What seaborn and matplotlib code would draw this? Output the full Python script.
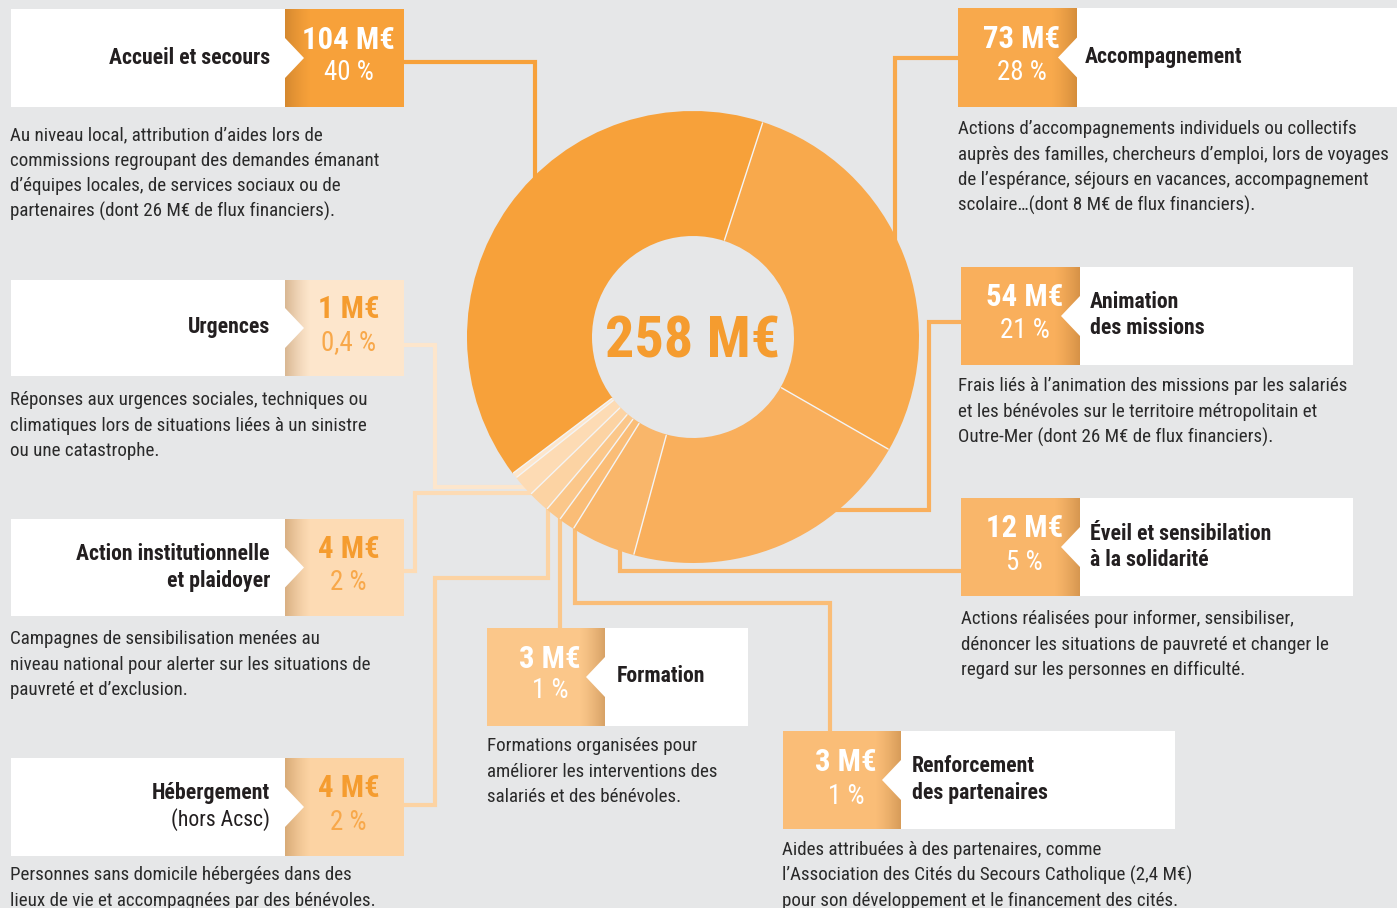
import numpy as np
import matplotlib
matplotlib.use("Agg")
import matplotlib.pyplot as plt
import seaborn as sns
from matplotlib.patches import Rectangle, Polygon
from matplotlib import font_manager as fm

# ---------------- data ----------------
categories = ["Accueil et secours", "Accompagnement", "Animation des missions",
              "Éveil et sensibilisation à la solidarité", "Renforcement des partenaires",
              "Formation", "Hébergement", "Action institutionnelle et plaidoyer", "Urgences"]
amounts = [104, 73, 54, 12, 3, 3, 4, 4, 1]
amount_labels = ["104 M€", "73 M€", "54 M€", "12 M€", "3 M€", "3 M€", "4 M€", "4 M€", "1 M€"]
percent_labels = ["40 %", "28 %", "21 %", "5 %", "1 %", "1 %", "2 %", "2 %", "0,4 %"]
total_label = "258 M€"
title_lines = [
    ["Accueil et secours"],
    ["Accompagnement"],
    ["Animation", "des missions"],
    ["Éveil et sensibilation", "à la solidarité"],
    ["Renforcement", "des partenaires"],
    ["Formation"],
    ["Hébergement", "(hors Acsc)"],
    ["Action institutionnelle", "et plaidoyer"],
    ["Urgences"],
]
descriptions = [
    ["Au niveau local, attribution d’aides lors de",
     "commissions regroupant des demandes émanant",
     "d’équipes locales, de services sociaux ou de",
     "partenaires (dont 26 M€ de flux financiers)."],
    ["Actions d’accompagnements individuels ou collectifs",
     "auprès des familles, chercheurs d’emploi, lors de voyages",
     "de l’espérance, séjours en vacances, accompagnement",
     "scolaire…(dont 8 M€ de flux financiers)."],
    ["Frais liés à l’animation des missions par les salariés",
     "et les bénévoles sur le territoire métropolitain et",
     "Outre-Mer (dont 26 M€ de flux financiers)."],
    ["Actions réalisées pour informer, sensibiliser,",
     "dénoncer les situations de pauvreté et changer le",
     "regard sur les personnes en difficulté."],
    ["Aides attribuées à des partenaires, comme",
     "l’Association des Cités du Secours Catholique (2,4 M€)",
     "pour son développement et le financement des cités."],
    ["Formations organisées pour",
     "améliorer les interventions des",
     "salariés et des bénévoles."],
    ["Personnes sans domicile hébergées dans des",
     "lieux de vie et accompagnées par des bénévoles."],
    ["Campagnes de sensibilisation menées au",
     "niveau national pour alerter sur les situations de",
     "pauvreté et d’exclusion."],
    ["Réponses aux urgences sociales, techniques ou",
     "climatiques lors de situations liées à un sinistre",
     "ou une catastrophe."],
]

# ---------------- style ----------------
sns.set_theme(style="white")
BG = "#e6e7e8"
DARK = "#231f20"
palette = sns.color_palette(["#f7a13a", "#f8a94c", "#f9af5c", "#f9b66a", "#fabd77",
                             "#fbc78a", "#fcd3a3", "#fddbb4", "#fde6cc"])
value_colors = ["white"] * 6 + ["#f59c2f"] * 3
pct_colors = ["white"] * 6 + ["#f8a84a"] * 3


def pick(fams):
    for f in fams:
        try:
            fm.findfont(fm.FontProperties(family=f), fallback_to_default=False)
            return f
        except Exception:
            pass
    return "DejaVu Sans"

FONT = pick(["Liberation Sans Narrow", "Roboto Condensed", "Liberation Sans", "DejaVu Sans"])
plt.rcParams["font.family"] = [FONT, "DejaVu Sans"]

# ---------------- layout (pixels, y down) ----------------
layout = [
    dict(side="L", cx=(285, 404), wx=(11, 285), top=9, bot=107, vy=39, py=72, tx=270, tys=[58], dx=10, dy0=133),
    dict(side="R", cx=(958, 1077), wx=(1077, 1397), top=8, bot=107, vy=38, py=72, tx=1085, tys=[57], dx=958, dy0=127),
    dict(side="R", cx=(961, 1080), wx=(1080, 1353), top=267, bot=365, vy=296, py=330, tx=1090, tys=[302, 328], dx=958, dy0=384),
    dict(side="R", cx=(961, 1080), wx=(1080, 1353), top=498, bot=596, vy=527, py=562, tx=1090, tys=[533, 559], dx=961, dy0=617),
    dict(side="R", cx=(783, 901), wx=(901, 1175), top=731, bot=829, vy=761, py=795, tx=912, tys=[766, 792], dx=782, dy0=848),
    dict(side="R", cx=(487, 605), wx=(605, 748), top=628, bot=726, vy=658, py=690, tx=617, tys=[676], dx=487, dy0=744),
    dict(side="L", cx=(285, 404), wx=(11, 285), top=758, bot=856, vy=787, py=821, tx=270, tys=[793, 819], dx=10, dy0=873),
    dict(side="L", cx=(285, 404), wx=(11, 285), top=519, bot=616, vy=548, py=582, tx=270, tys=[554, 580], dx=10, dy0=637),
    dict(side="L", cx=(285, 404), wx=(11, 285), top=280, bot=376, vy=308, py=342, tx=270, tys=[327], dx=10, dy0=398),
]
connectors = [
    [(404, 62), (535, 62), (535, 205)],
    [(958, 58), (895, 58), (895, 265)],
    [(961, 322), (929, 322), (929, 510), (815, 510)],
    [(961, 571), (620, 571), (620, 525)],
    [(830, 731), (830, 603), (575, 603), (575, 505)],
    [(560, 628), (560, 500)],
    [(404, 805), (435, 805), (435, 578), (548, 578), (548, 498)],
    [(404, 571), (415, 571), (415, 493), (548, 493)],
    [(404, 345), (435, 345), (435, 487), (545, 487)],
]

CENTER = (693, 337)
R_OUT, R_IN = 226, 101

fig = plt.figure(figsize=(13.97, 9.08), dpi=100, facecolor=BG)
ax = fig.add_axes([0, 0, 1, 1])
ax.set_facecolor(BG)
ax.set_xlim(0, 1397)
ax.set_ylim(908, 0)
renderer = fig.canvas.get_renderer()


def fit_size(samples, weight="normal", base=20.0):
    ratios = []
    for text, target in samples:
        t = ax.text(0, 0, text, fontsize=base, fontweight=weight)
        w = t.get_window_extent(renderer).width
        t.remove()
        ratios.append(target / w)
    return base * min(ratios)


FS_DESC = fit_size([("commissions regroupant des demandes émanant", 390),
                    ("auprès des familles, chercheurs d’emploi, lors de voyages", 432),
                    ("l’Association des Cités du Secours Catholique (2,4 M€)", 428)])
FS_TITLE = fit_size([("Accueil et secours", 156), ("Action institutionnelle", 186),
                     ("Accompagnement", 154)], "bold") * 1.04
FS_VAL = fit_size([("104 M€", 90), ("73 M€", 75)], "bold") * 1.03
FS_PCT = fit_size([("40 %", 50), ("0,4 %", 58)])
FS_CENTER = fit_size([(total_label, 176)], "bold")

# connectors (behind donut)
for i, path in enumerate(connectors):
    xs, ys = zip(*path)
    ax.plot(xs, ys, color=palette[i], lw=3.0, solid_joinstyle="miter",
            solid_capstyle="butt", zorder=1)

# donut
total = sum(amounts)
accomp_start = 18.0  # clockwise from top
accueil_start = accomp_start - amounts[0] / total * 360
theta0 = accueil_start - 90  # y axis inverted -> counterclock in data = clockwise on screen
wedges, _ = ax.pie(amounts, colors=palette, startangle=theta0, counterclock=True,
                   radius=R_OUT, center=CENTER, frame=True,
                   wedgeprops=dict(width=R_OUT - R_IN, edgecolor="none", linewidth=0))
for w in wedges:
    w.set_zorder(3)
    ang = np.deg2rad(w.theta1)
    ax.plot([CENTER[0] + (R_IN + 1) * np.cos(ang), CENTER[0] + (R_OUT - 1) * np.cos(ang)],
            [CENTER[1] + (R_IN + 1) * np.sin(ang), CENTER[1] + (R_OUT - 1) * np.sin(ang)],
            color="#f4f4f4", lw=1.0, zorder=4)
ax.text(CENTER[0], CENTER[1] + 20, total_label, ha="center", va="baseline",
        fontsize=FS_CENTER, fontweight="bold", color="#f59c2f", zorder=5)


def shadow(x0, x1, y0, y1, fade_right, base_alpha):
    n = 64
    a = np.linspace(base_alpha, 0, n) ** 1.3 / base_alpha ** 0.3
    if not fade_right:
        a = a[::-1]
    img = np.zeros((1, n, 4))
    img[..., 0], img[..., 1], img[..., 2] = 0.55, 0.33, 0.1
    img[0, :, 3] = np.clip(a, 0, 1)
    ax.imshow(img, extent=(x0, x1, y1, y0), aspect="auto", interpolation="bilinear", zorder=6)


for i, L in enumerate(layout):
    top, bot = L["top"], L["bot"]
    h = bot - top
    ym = (top + bot) / 2
    cx0, cx1 = L["cx"]
    wx0, wx1 = L["wx"]
    ax.add_patch(Rectangle((cx0, top), cx1 - cx0, h, facecolor=palette[i], edgecolor="none", zorder=5))
    ax.add_patch(Rectangle((wx0, top), wx1 - wx0, h, facecolor="white", edgecolor="none", zorder=5))
    if L["side"] == "L":
        shadow(cx0, cx0 + 26, top, bot, True, 0.32)
        notch = [(wx1, ym - 20), (wx1 + 19, ym), (wx1, ym + 20)]
        ha_t = "right"
    else:
        shadow(cx1 - 26, cx1, top, bot, False, 0.32)
        notch = [(wx0, ym - 20), (wx0 - 19, ym), (wx0, ym + 20)]
        ha_t = "left"
    ax.add_patch(Polygon(notch, closed=True, facecolor="white", edgecolor="none", zorder=7))
    vx = (cx0 + cx1) / 2 + 4
    ax.text(vx, L["vy"] + 10, amount_labels[i], ha="center", va="baseline", fontsize=FS_VAL,
            fontweight="bold", color=value_colors[i], zorder=8)
    ax.text(vx, L["py"] + 8.5, percent_labels[i], ha="center", va="baseline", fontsize=FS_PCT,
            color=pct_colors[i], zorder=8)
    for j, (line, ty) in enumerate(zip(title_lines[i], L["tys"])):
        weight = "normal" if line.startswith("(") else "bold"
        ax.text(L["tx"], ty + 6.5, line, ha=ha_t, va="baseline", fontsize=FS_TITLE,
                fontweight=weight, color=DARK, zorder=8)
    for j, line in enumerate(descriptions[i]):
        ax.text(L["dx"], L["dy0"] + 7 + j * 25.7, line, ha="left", va="baseline",
                fontsize=FS_DESC, color="#2a2a2a", zorder=8)

ax.set_xlim(0, 1397)
ax.set_ylim(908, 0)
ax.set_aspect("auto")
ax.axis("off")
fig.savefig("out.png", dpi=100, facecolor=BG)
